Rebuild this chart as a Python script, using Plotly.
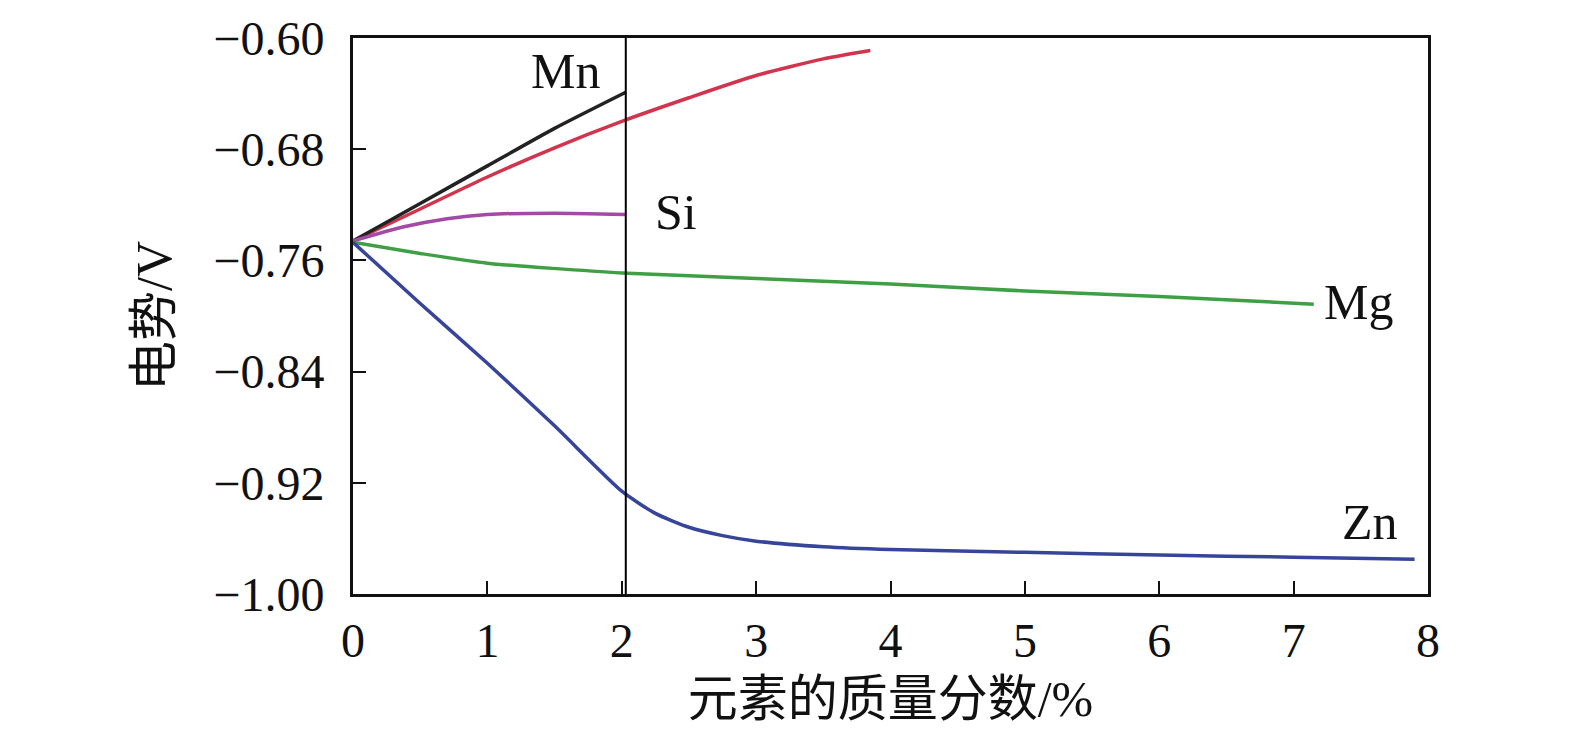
import plotly.graph_objects as go

# 电势随元素质量分数变化
mn_x = [0, 0.5, 1.0, 1.5, 2.03]
mn_y = [-0.746, -0.719, -0.692, -0.665, -0.639]

cu_x = [0, 0.5, 1.0, 1.5, 2.0, 2.5, 3.0, 3.5, 3.85]
cu_y = [-0.746, -0.723, -0.700, -0.679, -0.660, -0.643, -0.627, -0.615, -0.609]

si_x = [0, 0.37, 0.7, 1.0, 1.5, 2.03]
si_y = [-0.746, -0.736, -0.730, -0.727, -0.726, -0.727]

mg_x = [0, 0.5, 1.0, 2.0, 3.0, 4.0, 5.0, 6.0, 7.15]
mg_y = [-0.747, -0.755, -0.762, -0.769, -0.773, -0.777, -0.782, -0.786, -0.7915]

zn_x = [0, 0.5, 1.0, 1.5, 2.0, 2.25, 2.5, 2.75, 3.0, 3.5, 4.0, 5.0, 6.0, 7.0, 7.9]
zn_y = [-0.747, -0.791, -0.834, -0.879, -0.926, -0.942, -0.952, -0.958, -0.962, -0.966,
        -0.968, -0.970, -0.972, -0.9735, -0.975]

label_text = ["Mn", "Si", "Mg", "Zn"]
label_x = [1.585, 2.40, 7.48, 7.57]
label_y = [-0.624, -0.7255, -0.790, -0.948]

divider_x = 2.03

FONT = "Liberation Serif, Times New Roman, Noto Sans CJK SC, serif"

fig = go.Figure()

series = [
    (cu_x, cu_y, "#d2344e"),
    (mn_x, mn_y, "#222222"),
    (si_x, si_y, "#a24aa6"),
    (mg_x, mg_y, "#3f9f45"),
    (zn_x, zn_y, "#36449a"),
]
for xs, ys, c in series:
    fig.add_trace(go.Scatter(x=xs, y=ys, mode="lines",
                             line=dict(color=c, width=3.5, shape="spline", smoothing=0.6),
                             showlegend=False, hoverinfo="skip"))

# 竖线 x = 2.03
fig.add_shape(type="line", x0=divider_x, x1=divider_x, y0=0, y1=1, yref="paper",
              line=dict(color="black", width=2))

for t, x, y in zip(label_text, label_x, label_y):
    fig.add_annotation(x=x, y=y, text=t, showarrow=False,
                       font=dict(family=FONT, size=50, color="#111111"))

fig.update_xaxes(range=[0, 8], tickvals=list(range(9)), ticks="inside", ticklen=13,
                 tickwidth=2, tickcolor="#111111", showline=True, linewidth=3,
                 linecolor="#111111", mirror=True, showgrid=False, zeroline=False,
                 ticklabelstandoff=2, automargin=False, ticklabeloverflow="allow",
                 tickfont=dict(family=FONT, size=48, color="#111111"),
                 title=dict(text="元素的质量分数/%", font=dict(family=FONT, size=50, color="#111111"),
                            standoff=16))
fig.update_yaxes(range=[-1.0, -0.6], tickvals=[-1.0, -0.92, -0.84, -0.76, -0.68, -0.60],
                 tickformat=".2f", ticks="inside", ticklen=13, tickwidth=2,
                 tickcolor="#111111", showline=True, linewidth=3, linecolor="#111111",
                 mirror=True, showgrid=False, zeroline=False, ticklabelstandoff=16,
                 automargin=False, ticklabeloverflow="allow",
                 tickfont=dict(family=FONT, size=48, color="#111111"),
                 title=dict(text="电势/V", font=dict(family=FONT, size=50, color="#111111"),
                            standoff=26))

fig.update_layout(width=1575, height=742, paper_bgcolor="white", plot_bgcolor="white",
                  margin=dict(l=345, r=155, t=30, b=156))

fig.write_html("out.html")
